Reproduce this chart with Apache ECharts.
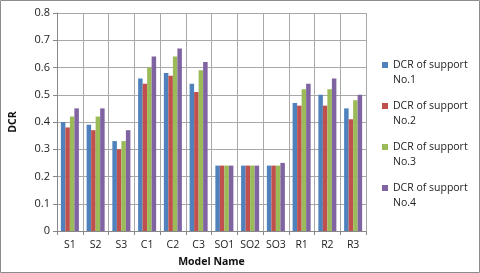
<!DOCTYPE html>
<html><head><meta charset="utf-8">
<script src="https://cdn.jsdelivr.net/npm/echarts@6/dist/echarts.min.js"></script>
<style>html,body{margin:0;padding:0;background:#fff}#c{width:480px;height:273px}</style>
</head><body><div id="c"></div>
<script>
const categories = ['S1','S2','S3','C1','C2','C3','SO1','SO2','SO3','R1','R2','R3'];
const support1 = [0.40,0.39,0.33,0.56,0.58,0.54,0.24,0.24,0.24,0.47,0.50,0.45];
const support2 = [0.38,0.37,0.30,0.54,0.57,0.51,0.24,0.24,0.24,0.46,0.46,0.41];
const support3 = [0.42,0.42,0.33,0.60,0.64,0.59,0.24,0.24,0.24,0.52,0.52,0.48];
const support4 = [0.45,0.45,0.37,0.64,0.67,0.62,0.24,0.24,0.25,0.54,0.56,0.50];
const seriesNames = ['DCR of support\nNo.1','DCR of support\nNo.2','DCR of support\nNo.3','DCR of support\nNo.4'];
const colors = ['#4F81BD','#C0504D','#9BBB59','#8064A2'];
const yTicks = [0,0.1,0.2,0.3,0.4,0.5,0.6,0.7,0.8];

const font = 'Open Sans, Liberation Sans, sans-serif';
const chart = echarts.init(document.getElementById('c'), null, {renderer:'canvas'});
const data = [support1, support2, support3, support4];
chart.setOption({
  animation:false,
  backgroundColor:'#fff',
  graphic:[{type:'rect',shape:{x:0.5,y:0.5,width:479,height:272},style:{fill:'none',stroke:'#8c8c8c',lineWidth:1}}],
  grid:{left:52,right:114,top:13,bottom:41},
  legend:{
    orient:'vertical', left:377, top:53, itemGap:11, itemWidth:6, itemHeight:22,
    icon:'path://M0,0H6V6H0Z M0,22H0.01V22.01H0Z',
    textStyle:{fontFamily:font,fontSize:10.5,color:'#222',lineHeight:15},
    data:seriesNames
  },
  xAxis:{
    type:'category', data:categories,
    name:'Model Name', nameLocation:'middle', nameGap:26,
    nameTextStyle:{fontFamily:font,fontSize:10.5,fontWeight:'bold',color:'#111'},
    axisLine:{lineStyle:{color:'#888'}},
    axisTick:{show:true,length:4,lineStyle:{color:'#888'}},
    axisLabel:{fontFamily:font,fontSize:10.5,color:'#222',margin:9,interval:0},
    splitLine:{show:true,interval:0,lineStyle:{color:'#a8a8a8'}}
  },
  yAxis:{
    type:'value', min:0, max:0.8, interval:0.1,
    name:'DCR', nameLocation:'middle', nameGap:38, nameRotate:90,
    nameTextStyle:{fontFamily:font,fontSize:10.5,fontWeight:'bold',color:'#111'},
    axisLine:{show:true,lineStyle:{color:'#888'}},
    axisTick:{show:true,length:4,inside:false,lineStyle:{color:'#888'}},
    axisLabel:{fontFamily:font,fontSize:11,color:'#222',margin:7,
      formatter:v=>{const t=yTicks.find(x=>Math.abs(x-v)<1e-9);return t===undefined?'':String(t);}},
    splitLine:{show:true,lineStyle:{color:'#a8a8a8'}}
  },
  series:data.map((d,i)=>({
    type:'bar', name:seriesNames[i], data:d,
    barGap:'0%', barCategoryGap:'30%',
    itemStyle:{color:colors[i]}
  }))
});
</script></body></html>
